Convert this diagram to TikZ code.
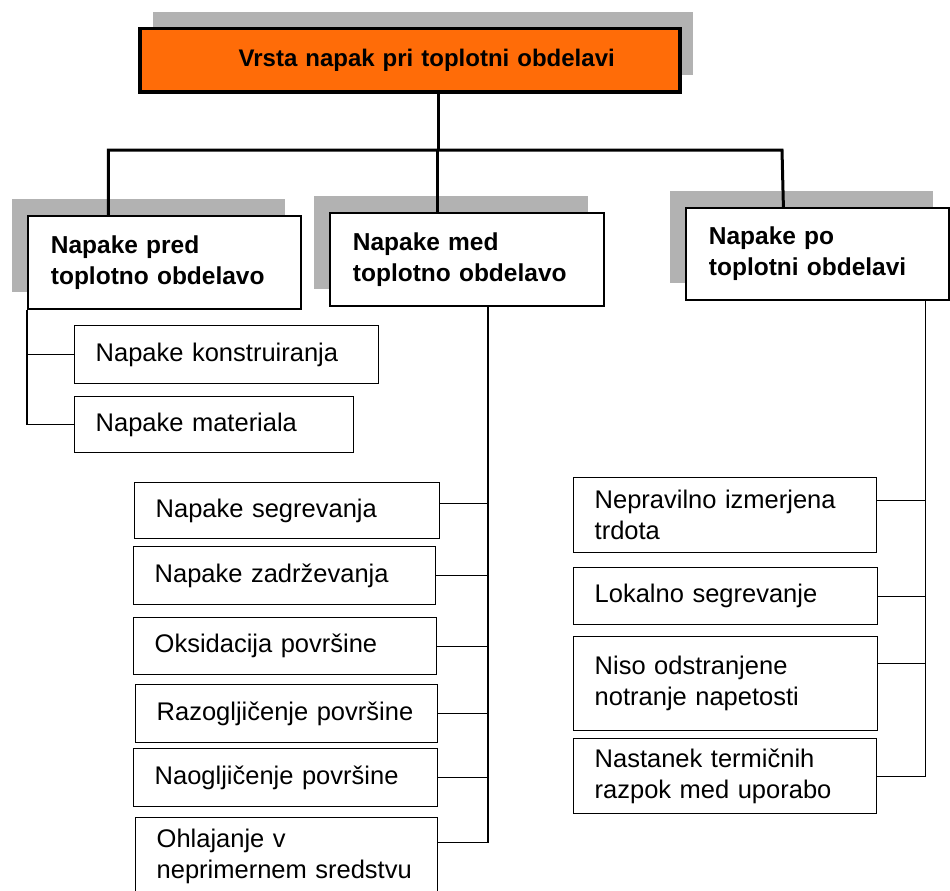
\documentclass[tikz,border=0pt]{standalone}
\usepackage{fontspec}
\setmainfont{Liberation Sans}
\usetikzlibrary{shadows}
\definecolor{titleorange}{RGB}{255,108,8}
\definecolor{shadegray}{RGB}{178,178,178}
\begin{document}
\begin{tikzpicture}[x=1pt,y=-1pt,
    item/.style={draw,fill=white,line width=1.4pt,anchor=north west,inner xsep=21pt,align=left,font=\fontsize{25.5}{31}\selectfont},
    group/.style={item,line width=1.8pt,inner xsep=23pt,font=\fontsize{24.5}{31}\selectfont\bfseries,
        drop shadow={shadow xshift=-16pt,shadow yshift=17pt,fill=shadegray,opacity=1}},
    headbox/.style={draw,fill=titleorange,line width=3.5pt,anchor=north west,align=right,font=\fontsize{24}{31}\selectfont\bfseries,
        drop shadow={shadow xshift=13pt,shadow yshift=17pt,fill=shadegray,opacity=1}},
    trunk/.style={line width=3pt},
    twig/.style={line width=1.4pt}]
    \useasboundingbox (0,0) rectangle (950,891);
    \clip (0,0) rectangle (950,891);

    \node[headbox,minimum width=540pt,minimum height=63pt,text width=410pt] (title) at (138,27) {Vrsta napak pri toplotni obdelavi};

    \node[group,text width=227pt,minimum height=93pt] (pred) at (27,215) {Napake pred\\toplotno obdelavo};
    \node[group,text width=228pt,minimum height=93pt] (med) at (329,212) {Napake med\\toplotno obdelavo};
    \node[group,text width=217pt,minimum height=92pt] (po) at (685,207) {Napake po\\toplotni obdelavi};

    \node[item,text width=262pt,minimum height=58pt] (konst) at (74,325) {Napake konstruiranja};
    \node[item,text width=237pt,minimum height=56pt] (mat) at (74,396) {Napake materiala};

    \node[item,text width=263pt,minimum height=56pt] (seg) at (134,482) {Napake segrevanja};
    \node[item,text width=260pt,minimum height=58pt] (zad) at (133,546) {Napake zadrževanja};
    \node[item,text width=261pt,minimum height=57pt] (oks) at (133,617) {Oksidacija površine};
    \node[item,text width=260pt,minimum height=58pt] (razo) at (135,684) {Razogljičenje površine};
    \node[item,text width=262pt,minimum height=58pt] (naog) at (133,748) {Naogljičenje površine};
    \node[item,text width=260pt,minimum height=78pt] (ohl) at (135,817) {Ohlajanje v\\neprimernem sredstvu};

    \node[item,text width=261pt,minimum height=75pt] (nep) at (573,477) {Nepravilno izmerjena\\trdota};
    \node[item,text width=262pt,minimum height=57pt] (lok) at (573,567) {Lokalno segrevanje};
    \node[item,text width=262pt,minimum height=94pt] (niso) at (573,636) {Niso odstranjene\\notranje napetosti};
    \node[item,text width=261pt,minimum height=75pt] (nast) at (573,738) {Nastanek termičnih\\razpok med uporabo};

    \coordinate (busL) at (107,150);
    \coordinate (busR) at (782,150);
    \draw[trunk] ([xshift=29pt]title.south) -- ([xshift=29pt]title.south |- busL);
    \draw[trunk] ([xshift=-56pt]pred.north) |- (busR) -- ([xshift=-34pt]po.north);
    \draw[trunk] ([xshift=-29pt]med.north) -- ([xshift=-29pt]med.north |- busL);

    \draw[twig] (pred.south west) |- (konst.west);
    \draw[twig] (pred.south west) |- (mat.west);
    \foreach \n/\dy in {seg/7,zad/0,oks/0,razo/0,naog/0,ohl/14}
        \draw[twig] ([xshift=21pt]med.south) |- ([yshift=\dy pt]\n.east);
    \foreach \n/\dy in {nep/15,lok/0,niso/20,nast/0}
        \draw[twig] ([xshift=108pt]po.south) |- ([yshift=\dy pt]\n.east);
\end{tikzpicture}
\end{document}
